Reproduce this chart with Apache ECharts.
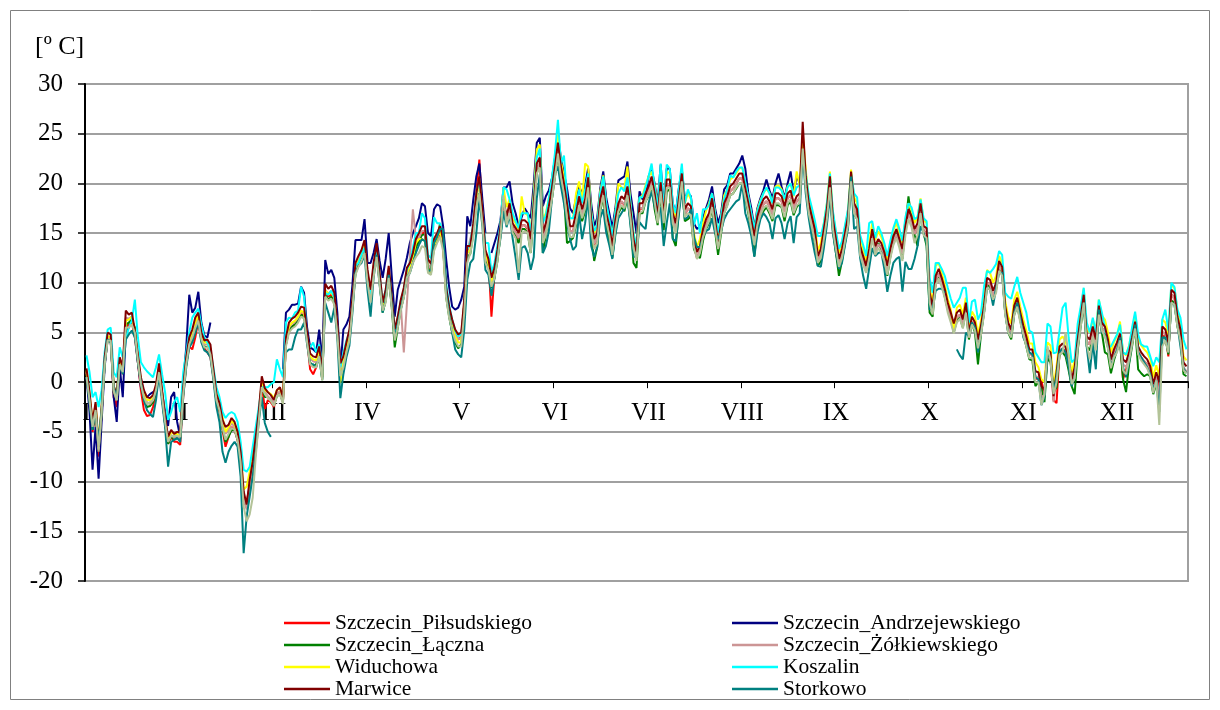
<!DOCTYPE html>
<html>
<head>
<meta charset="utf-8">
<script src="https://cdn.jsdelivr.net/npm/echarts@6/dist/echarts.min.js"></script>
<style>
  html, body { margin: 0; padding: 0; background: #fff; }
  #chart { width: 1220px; height: 710px; }
</style>
</head>
<body>
<div id="chart"></div>
<script>
// Daily mean air temperature [°C] at eight stations over one year (365 days).
const months = ['I', 'II', 'III', 'IV', 'V', 'VI', 'VII', 'VIII', 'IX', 'X', 'XI', 'XII'];
const DAYS = 365;
const days = Array.from({ length: DAYS }, (_, i) => i + 1);
const gap = n => new Array(n).fill(null); // days without a measurement

const szczecinPilsudskiego = [
  1.0, -1.8, -5.0, -3.0, -7.5, -3.2, 1.8, 4.3, 4.2, -1.5,
  -2.5, 1.8, 0.8, 5.5, 5.8, 6.0, 4.5, 2.0, -0.8, -2.8,
  -3.4, -3.3, -2.5, -1.0, 1.2, -1.5, -4.2, -6.2, -5.5, -6.0,
  -6.0, -6.3, -1.5, 1.8, 3.6, 3.3, 4.5, 6.2, 4.2, 3.4,
  3.0, 2.5, 0.5, -2.0, -3.0, -4.8, -6.5, -5.5, -4.5, -4.8,
  -5.8, -8.0, -11.5, -12.0, -10.5, -8.5, -6.0, -3.5, -0.2, -2.7,
  -1.8, -2.0, -2.5, -1.2, -1.0, -2.0, 3.8, 5.2, 5.6, 5.8,
  6.2, 6.8, 6.8, 4.2, 1.3, 0.8, 1.5, 3.0, 0.5, 9.0,
  8.6, 8.8, 8.2, 5.2, 1.0, 1.8, 3.2, 4.5, 7.8, 11.2,
  11.8, 12.4, 13.4, 10.5, 8.5, 11.0, 13.0, 10.2, 7.2, 8.5,
  10.8, 7.8, 4.5, 5.8, 7.6, 8.8, 10.8, 11.3, 12.3, 13.7,
  14.2, 15.0, 15.0, 11.8, 11.2, 13.8, 14.3, 15.0, 13.8, 9.0,
  7.0, 5.8, 4.8, 4.3, 4.6, 7.8, 13.2, 14.0, 15.6, 19.2,
  22.4, 17.0, 12.8, 12.4, 6.6, 10.8, 12.8, 15.2, 18.0, 16.2,
  17.6, 15.6, 15.0, 14.4, 15.8, 15.8, 15.4, 13.8, 17.4, 21.6,
  22.0, 14.6, 15.6, 17.2, 19.0, 21.2, 23.6, 21.2, 19.5, 17.4,
  15.2, 15.2, 16.5, 18.2, 16.8, 17.8, 20.0, 15.7, 13.8, 14.5,
  17.8, 19.2, 16.5, 15.2, 13.2, 15.8, 17.5, 18.2, 17.8, 19.2,
  16.8, 13.8, 12.6, 17.4, 17.5, 18.5, 19.2, 20.2, 18.4, 16.2,
  19.6, 16.2, 19.8, 19.8, 16.4, 15.5, 17.8, 20.5, 16.8, 17.5,
  17.2, 13.8, 12.5, 13.2, 14.8, 15.9, 16.5, 18.0, 15.8, 13.4,
  15.5, 17.5, 18.2, 19.2, 19.5, 20.0, 20.5, 20.5, 19.0, 17.5,
  15.8, 14.2, 16.2, 17.2, 17.9, 18.2, 17.7, 16.9, 18.5, 18.5,
  18.2, 17.2, 18.5, 18.8, 17.5, 18.2, 18.5, 24.0, 20.2, 17.5,
  16.2, 14.9, 12.2, 12.9, 14.9, 16.9, 20.2, 15.9, 13.9, 11.9,
  12.9, 14.5, 16.2, 20.8, 17.5, 16.9, 13.2, 12.2, 11.2, 12.9,
  14.9, 13.2, 13.9, 13.5, 12.6, 11.2, 12.9, 14.2, 14.9, 13.9,
  12.9, 15.2, 17.8, 16.2, 14.9, 15.5, 17.5, 15.2, 15.0, 8.5,
  7.1, 10.2, 10.9, 10.0, 8.9, 7.5, 6.5, 5.4, 6.5, 6.8,
  5.8, 7.5, 4.9, 6.1, 5.5, 3.8, 5.2, 7.2, 10.0, 9.8,
  8.7, 9.5, 11.7, 11.1, 7.2, 5.5, 4.8, 7.2, 8.0, 6.5,
  5.2, 4.1, 2.8, 2.8, 0.4, 0.3, 0.1, -1.3, 2.8, 2.5,
  -1.8, -2.1, 3.1, 3.4, 3.0, 1.8, -0.2, 1.0, 3.8, 6.1,
  8.3, 4.1, 3.8, 5.1, 3.8, 7.2, 5.5, 5.1, 3.8, 1.8,
  2.8, 3.5, 4.4, 0.3, 1.2, 2.5, 4.0, 5.6, 3.1, 2.5,
  2.1, 1.8, 1.1, -0.7, 0.5, -0.5, 4.5, 4.8, 2.6, 8.8,
  8.5, 6.1, 4.8, 1.1, 1.1
];

const szczecinAndrzejewskiego = [
  0.5, -3.0, -8.8, -4.5, -9.7, -4.0, 1.5, 4.5, 4.5, -1.5,
  -4.0, 1.5, -1.5, 5.0, 5.5, 6.0, 5.0, 2.0, -0.5, -1.2,
  -1.5, -1.2, -1.0, -0.8, 1.0, -1.0, -3.0, -4.4, -1.5, -1.0,
  -4.0, -5.5, 0.0, 3.5, 8.8, 7.0, 7.5, 9.1, 6.0, 4.7,
  4.5, 6.0,
  ...gap(23),
  1.3, 7.0, 7.3, 7.8, 7.8,
  7.9, 9.6, 9.0, 5.5, 3.5, 3.3, 3.0, 5.3, 2.0, 12.3,
  10.9, 11.3, 10.5, 7.0, 1.3, 5.3, 5.8, 6.6, 9.8, 14.3,
  14.3, 14.3, 16.4, 12.0, 12.0, 13.0, 14.4, 12.2, 10.5, 12.4,
  15.0, 10.7, 6.6, 9.3, 10.3, 11.3, 12.5, 14.0, 15.0, 15.7,
  16.5, 18.0, 17.7, 15.0, 14.7, 17.4, 17.9, 17.7, 15.7, 12.4,
  9.6, 7.6, 7.3, 7.5, 8.3, 9.6, 16.7, 15.7, 18.4, 20.7,
  22.0, 18.4, 15.0,
  ...gap(1),
  13.0, 14.0, 15.0, 16.3, 19.6, 19.6,
  20.2, 18.0, 17.0, 15.7, 16.6, 17.5, 17.0, 16.5, 20.0, 24.1,
  24.6, 17.7, 18.7, 19.3, 20.5, 22.5, 25.0, 22.5, 21.0, 19.5,
  17.5, 17.0, 18.5, 19.7, 19.0, 19.8, 21.5, 18.0, 15.7, 16.5,
  19.5, 21.2, 18.5, 17.0, 15.5, 17.5, 20.3, 20.5, 20.7, 22.2,
  19.0, 17.0, 15.0, 19.2, 18.4, 18.7, 20.7, 21.4, 20.0, 18.0,
  21.9, 17.7, 21.5, 21.5, 18.0, 17.0, 19.5, 21.4, 18.5, 19.0,
  18.7, 16.0, 15.4, 15.7, 16.5, 17.5, 18.4, 19.7, 17.5, 16.0,
  17.0, 19.4, 19.8, 21.0, 21.0, 21.5, 22.0, 22.8, 21.5, 19.0,
  17.5, 15.5, 17.5, 18.5, 19.3, 20.4, 19.3, 18.5, 20.0, 21.0,
  19.7, 18.5, 20.0, 21.2, 19.0, 20.7, 20.0,
  ...gap(128)
];

const szczecinLaczna = [
  0.8, -1.8, -4.8, -2.8, -7.0, -3.2, 1.8, 4.5, 4.2, -1.0,
  -1.8, 1.8, 1.0, 5.8, 6.0, 6.3, 5.5, 2.2, -0.2, -1.8,
  -2.5, -2.4, -2.0, -1.0, 1.2, -1.5, -4.2, -6.2, -5.4, -5.8,
  -5.6, -5.7, -1.0, 1.8, 3.8, 4.2, 5.0, 6.5, 4.4, 3.6,
  3.5, 2.9, 0.6, -1.8, -2.8, -4.6, -6.0, -5.5, -4.8, -4.8,
  -5.8, -7.8, -12.0, -12.5, -10.5, -8.6, -6.2, -3.8, -0.3, -1.5,
  -1.5, -1.8, -2.3, -1.4, -1.2, -2.0, 3.8, 5.2, 5.6, 5.8,
  6.2, 6.8, 6.6, 4.3, 2.0, 1.6, 1.8, 2.8, 0.2, 8.8,
  8.3, 8.6, 8.0, 5.0, 0.6, 1.7, 3.0, 4.3, 7.5, 11.0,
  11.7, 12.3, 13.3, 10.2, 8.2, 10.8, 13.0, 10.0, 7.0, 8.2,
  10.6, 7.6, 3.5, 5.5, 7.3, 8.6, 10.6, 11.1, 12.2, 13.5,
  14.2, 14.8, 14.9, 11.5, 11.0, 13.6, 14.4, 16.0, 13.6, 8.6,
  6.6, 5.0, 4.0, 3.4, 3.8, 7.2, 12.6, 12.9, 15.0, 18.0,
  19.0, 16.4, 12.2, 11.6, 9.5, 10.5, 12.2, 14.8, 17.5, 16.0,
  17.2, 15.4, 14.6, 14.0, 15.4, 15.4, 15.0, 13.0, 17.0, 21.2,
  21.6, 13.0, 14.8, 16.6, 18.4, 20.6, 23.0, 20.6, 18.8, 14.0,
  14.2, 14.5, 15.8, 17.6, 16.2, 17.2, 19.4, 14.8, 12.2, 13.6,
  17.2, 18.6, 15.8, 14.2, 12.5, 15.0, 17.0, 17.6, 17.2, 18.6,
  16.2, 12.0, 11.5, 17.0, 17.0, 18.2, 18.7, 19.7, 17.4, 15.8,
  19.0, 15.3, 19.2, 19.4, 14.5, 13.7, 17.2, 20.0, 16.2, 16.4,
  16.7, 13.4, 12.7, 12.5, 14.2, 15.4, 16.0, 17.5, 15.2, 12.8,
  15.0, 17.0, 17.8, 18.8, 19.0, 19.5, 20.0, 20.0, 18.5, 17.0,
  15.2, 12.7, 15.6, 16.6, 17.2, 17.6, 17.0, 16.2, 17.8, 17.8,
  17.6, 16.2, 17.8, 18.2, 16.8, 17.6, 18.0, 24.5, 19.6, 17.0,
  15.5, 14.0, 11.7, 12.2, 14.3, 16.4, 19.8, 15.2, 13.0, 10.7,
  12.2, 14.0, 15.7, 20.2, 17.0, 16.4, 13.7, 12.2, 11.7, 13.0,
  15.0, 13.2, 14.0, 13.4, 12.5, 10.7, 12.6, 14.2, 15.0, 14.0,
  12.4, 15.7, 18.7, 16.4, 14.8, 13.7, 17.5, 15.0, 13.7, 7.0,
  6.6, 10.0, 10.8, 10.0, 8.6, 7.3, 6.4, 5.0, 6.2, 6.5,
  5.5, 7.3, 4.3, 5.9, 5.0, 1.8, 4.8, 7.0, 9.8, 9.6,
  8.4, 9.3, 11.6, 11.0, 7.0, 5.0, 4.3, 6.8, 7.6, 6.2,
  4.8, 3.6, 2.3, 2.2, -0.4, 0.0, -0.6, -2.0, 2.4, 2.0,
  -1.0, -0.5, 2.8, 3.0, 2.6, 1.2, -0.4, -1.2, 3.2, 5.6,
  7.8, 3.6, 3.2, 4.6, 3.4, 6.8, 5.0, 3.0, 2.8, 0.9,
  2.2, 3.2, 4.0, 0.3, -1.0, 1.8, 3.6, 5.6, 1.3, 0.9,
  0.6, 0.8, 0.6, -1.2, -0.2, -1.5, 4.5, 4.5, 2.8, 8.2,
  8.0, 5.6, 4.3, 0.8, 0.6
];

const szczecinZolkiewskiego = [
  1.0, -1.5, -4.5, -2.5, -7.0, -3.0, 2.0, 4.5, 4.4, -0.9,
  -1.8, 2.0, 1.0, 6.5, 6.4, 6.6, 4.8, 2.3, 0.0, -1.3,
  -2.0, -2.2, -1.8, -0.7, 1.4, -1.2, -4.0, -6.0, -5.3, -5.6,
  -5.5, -5.8, -1.0, 2.0, 4.0, 4.8, 5.8, 6.6, 4.5, 3.8,
  3.8, 3.3, 0.8, -1.6, -2.6, -4.3, -5.2, -4.8, -4.1, -4.5,
  -5.5, -7.5, -11.8, -12.8, -10.5, -8.5, -6.0, -3.5, 0.1, -1.0,
  -1.4, -1.7, -2.2, -1.2, -0.9, -1.9, 4.0, 5.5, 5.9, 6.1,
  6.5, 7.1, 7.0, 4.6, 2.4, 2.1, 2.0, 3.1, 0.6, 9.3,
  8.9, 9.2, 8.5, 5.5, 1.3, 2.1, 3.5, 4.8, 8.0, 11.4,
  12.2, 12.8, 13.8, 10.8, 8.8, 11.5, 13.5, 10.5, 7.5, 8.8,
  11.2, 8.2, 4.8, 6.1, 7.8, 3.0, 7.8, 12.6, 17.4, 14.4,
  14.5, 15.2, 15.2, 11.9, 11.4, 13.9, 14.5, 15.2, 13.9, 9.1,
  7.1, 5.8, 4.8, 4.3, 4.5, 7.8, 13.2, 14.4, 15.5, 18.5,
  20.2, 16.9, 12.8, 11.9, 10.0, 11.0, 12.8, 15.2, 17.9, 16.2,
  17.5, 15.5, 15.0, 14.5, 15.8, 15.8, 15.5, 13.9, 17.5, 21.5,
  22.1, 14.5, 15.5, 17.2, 19.0, 21.2, 23.6, 21.2, 19.5, 17.5,
  15.2, 15.2, 16.5, 18.2, 16.9, 17.9, 20.1, 15.8, 13.9, 14.5,
  17.9, 19.2, 16.5, 15.2, 13.2, 15.8, 17.5, 18.2, 17.9, 19.2,
  16.9, 13.9, 12.6, 17.5, 17.5, 18.5, 19.2, 20.2, 18.5, 16.2,
  19.6, 16.2, 19.9, 19.9, 16.5, 15.5, 17.9, 20.5, 16.9, 17.5,
  17.2, 13.9, 12.6, 13.2, 14.9, 15.9, 16.5, 18.0, 15.9, 13.5,
  15.5, 17.5, 18.2, 19.2, 19.5, 20.0, 20.5, 20.5, 19.0, 17.5,
  15.8, 14.2, 16.2, 17.2, 17.9, 18.2, 17.7, 16.9, 18.5, 18.5,
  18.2, 17.2, 18.5, 18.8, 17.5, 18.2, 18.5, 24.5, 20.2, 17.5,
  16.2, 14.9, 12.2, 12.9, 14.9, 16.9, 20.2, 15.9, 13.9, 11.9,
  12.9, 14.5, 16.2, 20.7, 17.5, 16.9, 13.2, 12.2, 11.2, 12.9,
  14.9, 13.2, 13.9, 13.5, 12.6, 11.2, 12.9, 14.2, 14.9, 13.9,
  12.9, 15.2, 16.9, 16.2, 14.9, 15.5, 17.5, 15.2, 15.0, 8.5,
  7.1, 10.2, 10.9, 10.0, 8.9, 7.5, 6.5, 5.4, 6.5, 6.8,
  5.8, 7.5, 4.5, 6.1, 5.5, 3.8, 5.2, 7.2, 10.0, 9.8,
  8.7, 9.5, 11.7, 11.1, 7.2, 5.5, 4.8, 7.2, 8.0, 6.5,
  5.2, 4.1, 2.8, 2.8, 0.6, 0.5, -1.5, -1.3, 2.8, 2.5,
  -2.0, 0.5, 3.1, 3.4, 3.0, 1.8, -0.2, 1.0, 3.8, 6.1,
  8.3, 4.1, 3.8, 5.1, 3.8, 7.2, 5.5, 5.1, 3.8, 1.8,
  2.8, 3.5, 4.4, 1.8, 1.5, 2.5, 4.0, 5.6, 3.1, 2.5,
  2.1, 1.8, 1.1, -0.7, 0.5, -1.5, 5.1, 4.8, 3.5, 8.8,
  8.5, 6.1, 4.8, 1.5, 1.1
];

const widuchowa = [
  1.2, -1.2, -4.0, -2.2, -6.0, -2.5, 2.2, 4.6, 4.6, -0.4,
  -1.3, 2.2, 1.4, 6.2, 6.3, 6.6, 5.0, 2.5, 0.2, -1.0,
  -1.8, -1.8, -1.5, -0.5, 1.6, -1.0, -3.7, -5.8, -5.0, -5.2,
  -5.2, -5.5, -0.8, 2.2, 4.2, 5.0, 6.0, 6.8, 4.8, 4.0,
  4.0, 3.4, 1.0, -1.0, -2.0, -3.5, -5.0, -4.5, -3.9, -4.2,
  -5.2, -7.2, -10.8, -10.5, -9.0, -7.1, -5.0, -3.0, 0.0, -0.8,
  -1.0, -1.2, -1.6, -0.8, -0.6, -1.5, 4.2, 5.6, 6.0, 6.2,
  6.6, 7.2, 7.0, 4.6, 2.6, 2.3, 2.2, 3.3, 0.6, 9.2,
  8.9, 9.0, 8.5, 5.2, -0.1, 2.0, 3.6, 4.8, 8.0, 11.6,
  12.2, 12.8, 13.8, 10.8, 8.8, 11.5, 13.6, 10.6, 7.6, 8.8,
  11.2, 8.4, 4.7, 6.2, 7.8, 9.0, 11.0, 11.6, 12.6, 14.0,
  14.4, 14.4, 14.2, 11.3, 11.1, 13.8, 14.5, 15.2, 13.8, 9.0,
  7.0, 5.6, 4.6, 4.0, 4.0, 8.0, 13.0, 13.3, 15.7, 18.6,
  20.2, 16.8, 13.0, 12.0, 10.0, 11.4, 13.2, 15.8, 19.6, 17.6,
  18.4, 16.5, 16.0, 15.0, 18.7, 17.0, 16.8, 15.0, 19.0, 23.4,
  23.9, 16.3, 17.0, 18.5, 20.3, 22.5, 25.0, 22.2, 20.6, 17.0,
  16.5, 16.5, 19.0, 20.2, 18.2, 22.0, 21.7, 17.2, 15.0, 15.8,
  19.2, 20.8, 17.8, 16.2, 14.7, 17.0, 20.0, 19.6, 19.5, 21.7,
  18.0, 15.0, 13.5, 18.5, 18.8, 19.8, 20.7, 21.2, 19.8, 17.4,
  21.0, 17.4, 21.2, 21.0, 17.6, 16.6, 19.0, 21.6, 18.0, 19.0,
  18.4, 15.0, 13.6, 14.4, 16.0, 17.2, 18.0, 19.0, 17.0, 14.8,
  16.6, 18.8, 19.4, 20.4, 20.6, 21.0, 21.5, 21.6, 20.0, 18.6,
  16.9, 15.3, 17.3, 18.3, 19.0, 19.5, 19.0, 18.0, 19.7, 19.8,
  19.4, 18.3, 19.7, 20.0, 18.7, 21.2, 19.8, 25.0, 21.4, 18.6,
  17.3, 16.0, 13.2, 14.0, 16.0, 18.0, 21.2, 17.0, 15.0, 13.0,
  14.0, 15.6, 17.3, 21.4, 18.6, 18.0, 14.3, 13.3, 12.2, 14.0,
  16.0, 14.3, 15.2, 14.6, 13.7, 12.2, 14.0, 15.3, 16.0, 15.0,
  14.0, 16.3, 18.0, 17.3, 16.0, 16.6, 18.5, 16.3, 16.0, 9.5,
  8.0, 11.7, 12.0, 11.0, 9.8, 8.4, 7.3, 5.1, 7.5, 7.8,
  6.8, 8.5, 5.5, 7.1, 6.6, 4.8, 6.2, 8.4, 11.3, 11.0,
  10.0, 10.7, 12.7, 12.0, 8.2, 6.6, 5.9, 8.3, 9.1, 7.6,
  6.3, 5.2, 3.9, 3.9, 2.0, 1.5, 0.3, 0.0, 4.0, 3.7,
  -0.6, 1.6, 4.3, 4.6, 4.1, 2.9, 1.0, 2.2, 5.0, 7.3,
  9.4, 5.2, 5.0, 6.3, 5.0, 8.3, 6.7, 6.3, 5.0, 3.0,
  4.0, 4.7, 6.1, 3.0, 2.7, 3.7, 5.2, 6.8, 4.3, 3.7,
  3.3, 3.0, 2.3, 0.5, 1.7, 0.6, 6.3, 6.0, 4.7, 9.8,
  9.5, 7.2, 6.0, 2.6, 2.2
];

const koszalin = [
  2.7, 1.0, -1.5, -1.0, -2.5, -0.8, 3.0, 5.3, 5.5, 1.0,
  0.5, 3.5, 2.5, 4.3, 5.5, 6.2, 8.3, 4.5, 2.0, 1.5,
  1.1, 0.8, 0.5, 1.5, 2.8, 0.8, -1.0, -3.8, -3.0, -2.0,
  -1.5, -3.0, 1.0, 3.0, 5.0, 6.5, 7.0, 7.4, 5.8, 4.5,
  4.0, 3.2, 1.5, -0.5, -1.5, -3.0, -3.6, -3.2, -3.0, -3.2,
  -4.0, -6.0, -8.8, -9.0, -8.5, -6.5, -4.5, -2.5, -0.5, -0.5,
  -0.5, -0.2, 0.0, 2.3, 1.3, 0.5, 6.0, 6.5, 6.4, 7.0,
  7.2, 9.6, 8.6, 4.3, 3.5, 4.0, 3.0, 3.8, 1.5, 9.0,
  8.8, 9.2, 8.5, 5.5, 1.5, 3.0, 4.2, 5.0, 8.0, 11.7,
  12.0, 12.8, 13.5, 11.0, 8.8, 11.6, 13.6, 10.8, 8.0, 9.3,
  11.3, 8.5, 5.0, 6.5, 8.2, 9.3, 11.3, 12.0, 13.5, 15.0,
  15.0, 17.0, 16.5, 12.8, 12.5, 16.6, 16.0, 16.0, 14.5, 10.0,
  7.8, 6.3, 5.2, 4.6, 4.8, 7.8, 13.4, 14.0, 16.0, 19.0,
  20.5, 17.0, 14.0, 14.0, 11.0, 12.0, 13.8, 16.0, 19.6, 19.4,
  18.4, 17.0, 16.2, 15.5, 17.0, 17.0, 17.0, 15.0, 18.5, 22.6,
  23.5, 16.0, 16.8, 18.5, 20.5, 23.0, 26.4, 22.0, 22.8, 18.5,
  16.5, 16.5, 17.8, 19.4, 18.0, 19.4, 21.0, 17.0, 15.2, 15.8,
  19.0, 20.7, 18.0, 16.4, 14.7, 17.0, 19.0, 19.6, 19.2, 20.6,
  18.0, 15.0, 13.6, 18.6, 18.6, 19.6, 20.7, 22.0, 19.6, 17.4,
  22.0, 17.2, 21.9, 21.5, 18.0, 17.0, 19.4, 22.0, 18.0, 19.4,
  18.6, 15.8, 17.0, 15.0, 17.4, 17.4, 17.8, 19.0, 17.0, 15.0,
  16.7, 18.4, 19.4, 20.8, 20.6, 21.2, 21.6, 21.6, 20.2, 18.6,
  17.0, 15.4, 17.2, 18.2, 19.0, 19.6, 19.0, 18.0, 19.6, 19.6,
  19.3, 18.4, 19.6, 20.0, 18.8, 19.6, 19.8, 23.1, 21.0, 18.8,
  17.6, 16.3, 14.7, 14.7, 16.0, 18.0, 21.0, 17.2, 15.2, 13.4,
  14.2, 15.8, 17.4, 21.0, 19.0, 18.6, 14.8, 13.8, 12.7, 16.0,
  16.2, 14.5, 15.7, 15.0, 14.0, 12.7, 14.2, 15.5, 16.4, 15.4,
  14.2, 16.6, 18.0, 17.6, 16.4, 16.6, 18.4, 16.5, 16.2, 10.5,
  9.0, 12.0, 12.0, 11.4, 10.7, 9.5, 8.4, 7.5, 8.0, 8.5,
  9.5, 9.5, 6.0, 8.1, 8.3, 6.3, 7.0, 9.6, 11.2, 11.0,
  11.4, 11.9, 13.2, 12.8, 9.0, 8.6, 8.4, 9.6, 10.6, 9.0,
  8.0, 7.0, 5.2, 5.0, 3.0, 2.5, 2.0, 2.0, 5.9, 5.6,
  2.9, 3.0, 5.2, 7.5, 8.0, 4.5, 2.0, 2.3, 5.9, 7.6,
  9.5, 6.0, 5.0, 6.5, 5.0, 8.3, 7.0, 5.5, 3.6, 3.6,
  4.2, 4.8, 5.8, 3.0, 2.8, 3.6, 5.5, 7.1, 4.8, 3.8,
  3.6, 3.6, 2.6, 1.6, 2.5, 2.0, 6.3, 7.3, 5.2, 10.0,
  9.6, 7.3, 6.5, 4.3, 3.3
];

const marwice = [
  1.4, -1.0, -4.0, -2.0, -6.5, -2.5, 2.5, 5.0, 4.8, -0.4,
  -1.2, 2.5, 1.6, 7.2, 6.8, 7.0, 5.2, 2.8, 0.5, -0.8,
  -1.5, -1.6, -1.3, -0.2, 1.9, -0.8, -3.5, -5.5, -4.8, -5.2,
  -5.0, -5.0, -0.5, 2.5, 4.5, 5.3, 6.5, 7.0, 5.0, 4.2,
  4.3, 3.8, 1.3, -1.2, -2.1, -3.8, -4.5, -4.3, -3.6, -4.0,
  -5.0, -7.0, -11.0, -12.3, -9.8, -8.0, -5.5, -3.0, 0.6, -0.6,
  -1.0, -1.3, -1.8, -0.8, -0.5, -1.5, 4.5, 6.0, 6.4, 6.6,
  7.0, 7.6, 7.5, 5.0, 2.9, 2.6, 2.5, 3.6, 1.1, 9.9,
  9.4, 9.7, 9.0, 6.0, 1.9, 2.6, 4.0, 5.3, 8.5, 12.0,
  12.7, 13.3, 14.3, 11.3, 9.3, 12.0, 14.0, 11.0, 8.0, 9.3,
  11.7, 8.7, 5.3, 6.6, 8.3, 9.5, 11.5, 12.0, 13.0, 14.4,
  15.0, 15.7, 15.7, 12.4, 11.9, 14.4, 15.0, 15.7, 14.4, 9.6,
  7.6, 6.3, 5.3, 4.8, 5.0, 8.3, 13.7, 13.7, 16.0, 19.0,
  20.7, 17.4, 13.3, 12.4, 10.5, 11.5, 13.3, 15.7, 18.4, 16.7,
  18.0, 16.0, 15.5, 15.0, 16.3, 16.3, 16.0, 14.4, 18.0, 22.0,
  22.6, 15.0, 16.0, 17.7, 19.5, 21.7, 24.1, 21.7, 20.0, 18.0,
  15.7, 15.7, 17.0, 18.7, 17.4, 18.4, 20.6, 16.3, 14.4, 15.0,
  18.4, 19.7, 17.0, 15.7, 13.7, 16.3, 18.0, 18.7, 18.4, 19.7,
  17.4, 14.4, 13.1, 18.0, 18.0, 19.0, 19.7, 20.7, 19.0, 16.7,
  20.1, 16.7, 20.4, 20.4, 17.0, 16.0, 18.4, 21.0, 17.4, 18.0,
  17.7, 14.4, 13.1, 13.7, 15.4, 16.4, 17.0, 18.5, 16.4, 14.0,
  16.0, 18.0, 18.7, 19.7, 20.0, 20.5, 21.0, 21.0, 19.5, 18.0,
  16.3, 14.7, 16.7, 17.7, 18.4, 18.7, 18.2, 17.4, 19.0, 19.0,
  18.7, 17.7, 19.0, 19.3, 18.0, 18.7, 19.0, 26.2, 20.7, 18.0,
  16.7, 15.4, 12.7, 13.4, 15.4, 17.4, 20.7, 16.4, 14.4, 12.4,
  13.4, 15.0, 16.7, 21.2, 18.0, 17.4, 13.7, 12.7, 11.7, 13.4,
  15.4, 13.7, 14.4, 14.0, 13.1, 11.7, 13.4, 14.7, 15.4, 14.4,
  13.4, 15.7, 17.4, 16.7, 15.4, 16.0, 18.0, 15.7, 15.5, 9.0,
  7.6, 10.7, 11.4, 10.5, 9.4, 8.0, 7.0, 5.9, 7.0, 7.3,
  6.3, 8.0, 5.0, 6.6, 6.0, 4.3, 5.7, 7.7, 10.5, 10.3,
  9.2, 10.0, 12.2, 11.6, 7.7, 6.0, 5.3, 7.7, 8.5, 7.0,
  5.7, 4.6, 3.3, 3.3, 1.1, 1.0, -0.4, -0.8, 3.3, 3.0,
  -1.4, 1.0, 3.6, 3.9, 3.5, 2.3, 0.3, 1.5, 4.3, 6.6,
  8.8, 4.6, 4.3, 5.6, 4.3, 7.7, 6.0, 5.6, 4.3, 2.3,
  3.3, 4.0, 4.9, 2.3, 2.0, 3.0, 4.5, 6.1, 3.6, 3.0,
  2.6, 2.3, 1.6, -0.2, 1.0, 0.0, 5.6, 5.3, 4.0, 9.3,
  9.0, 6.6, 5.3, 2.0, 1.6
];

const storkowo = [
  0.5, -2.0, -4.8, -3.0, -6.0, -2.8, 1.8, 4.3, 4.0, -0.5,
  -1.5, 1.8, 0.8, 4.3, 4.8, 5.2, 4.5, 2.0, 0.0, -1.8,
  -2.8, -3.2, -3.5, -1.8, 0.8, -2.0, -4.5, -8.5, -6.0, -5.8,
  -5.6, -6.0, -1.5, 1.5, 3.5, 4.0, 5.0, 6.0, 4.0, 3.2,
  3.0, 2.5, 0.2, -2.5, -4.0, -7.0, -8.1, -7.0, -6.4, -6.0,
  -6.5, -9.5, -17.2, -13.5, -11.5, -9.5, -7.0, -4.0, -1.5, -4.1,
  -5.0, -5.5,
  ...gap(4),
  3.0, 3.3, 3.3, 4.5,
  5.3, 5.3, 6.0, 3.8, 1.8, 1.8, 1.5, 2.5, 0.3, 8.0,
  7.0, 6.0, 7.5, 4.5, -1.6, 0.8, 2.5, 3.7, 7.0, 11.0,
  11.7, 12.0, 12.8, 9.2, 6.6, 10.5, 12.8, 9.8, 7.0, 8.3,
  10.8, 7.8, 4.5, 5.8, 7.4, 8.6, 10.5, 11.0, 12.0, 13.0,
  13.8, 14.4, 14.2, 11.2, 11.2, 14.0, 14.6, 15.4, 15.4, 9.0,
  6.8, 5.0, 3.3, 2.8, 2.5, 5.3, 10.3, 12.0, 12.4, 15.0,
  18.4, 15.7, 11.3, 10.8, 8.7, 10.5, 12.6, 14.5, 17.2, 15.6,
  16.8, 14.5, 12.5, 10.3, 13.5, 13.7, 13.0, 11.3, 12.6, 18.5,
  20.9, 13.0, 13.7, 15.2, 18.4, 21.0, 21.7, 19.7, 18.0, 16.0,
  14.4, 13.3, 13.7, 17.0, 14.4, 16.0, 18.5, 13.7, 12.6, 13.6,
  16.5, 17.4, 15.0, 13.8, 12.4, 14.8, 16.5, 17.0, 17.5, 18.7,
  15.8, 12.6, 12.7, 16.1, 15.7, 15.4, 18.0, 19.2, 17.7, 16.7,
  17.6, 13.7, 16.0, 18.0, 14.4, 14.2, 16.8, 19.4, 16.4, 16.6,
  17.4, 14.6, 13.6, 13.6, 14.6, 15.2, 15.4, 16.5, 15.0, 14.4,
  15.2, 16.4, 17.0, 17.4, 17.8, 18.2, 18.4, 20.0, 17.0, 16.0,
  14.7, 12.6, 15.0, 16.4, 17.0, 16.6, 16.0, 14.4, 16.5, 16.8,
  16.0, 14.4, 16.0, 16.7, 14.0, 16.6, 17.0, 23.1, 19.0, 16.5,
  14.6, 13.0, 11.7, 11.6, 13.5, 15.8, 18.7, 15.0, 13.0, 11.4,
  12.0, 13.8, 15.5, 20.7, 15.4, 15.7, 12.5, 10.7, 9.4, 11.5,
  13.5, 12.7, 13.0, 13.1, 11.4, 9.1, 10.7, 12.0, 12.4, 12.6,
  9.1, 12.1, 11.4, 11.4, 12.4, 13.7, 15.7, 15.0, 14.0, 7.3,
  7.5, 9.2, 9.4, 9.4, 9.0,
  ...gap(3),
  3.3, 2.7,
  2.3, 5.0, 4.6, 6.0, 5.5, 3.0, 5.0, 7.0, 9.5, 9.3,
  7.7, 9.5, 11.0, 11.0, 7.0, 5.0, 4.6, 7.0, 8.0, 6.5,
  4.5, 3.8, 3.0, 2.8, 0.5, 0.3, -2.3, -1.5, 2.8, 2.4,
  -1.0, 0.6, 3.0, 3.4, 3.0, 1.6, -0.4, 0.5, 3.5, 6.0,
  8.0, 3.5, 0.9, 4.0, 1.3, 7.3, 5.0, 4.8, 3.5, 1.6,
  2.5, 3.2, 4.5, 1.5, 0.5, 2.0, 4.0, 5.8, 3.0, 2.5,
  2.0, 1.5, 0.8, -0.8, 0.2, -3.0, 4.5, 4.5, 3.0, 8.0,
  7.8, 5.8, 3.6, 1.4, 0.9
];

// Ninth curve, drawn last and not listed in the legend.
const srednia = [
  0.5, -1.8, -4.5, -2.8, -6.8, -3.0, 1.8, 4.2, 4.2, -0.8,
  -1.8, 1.8, 1.0, 5.5, 5.5, 5.8, 5.0, 2.2, -0.2, -1.5,
  -2.2, -2.0, -1.8, -0.8, 1.0, -1.5, -4.0, -6.0, -5.4, -5.4,
  -5.4, -5.5, -1.2, 1.8, 3.8, 4.5, 5.5, 6.2, 4.3, 3.5,
  3.5, 2.8, 0.5, -1.8, -2.8, -4.6, -5.8, -5.2, -4.6, -4.8,
  -5.8, -8.0, -12.5, -14.0, -13.3, -11.6, -7.5, -4.0, -0.5, -1.2,
  -1.6, -1.9, -2.4, -1.4, -1.2, -2.2, 3.6, 5.0, 5.4, 5.6,
  6.0, 6.6, 6.4, 4.0, 1.8, 1.5, 1.5, 2.6, 0.2, 8.6,
  8.2, 8.4, 7.8, 4.8, 0.6, 1.5, 3.0, 4.2, 7.4, 10.8,
  11.6, 12.2, 13.0, 10.0, 8.0, 10.6, 12.6, 9.8, 7.2, 8.0,
  10.5, 7.5, 4.2, 5.5, 7.2, 8.5, 10.5, 11.0, 12.0, 12.6,
  13.0, 13.7, 13.5, 11.0, 10.8, 13.2, 14.0, 14.6, 13.2, 8.5,
  6.5, 5.2, 4.2, 3.6, 3.6, 7.0, 12.0, 13.0, 14.6, 17.6,
  19.0, 16.0, 12.0, 11.3, 9.6, 10.5, 12.2, 14.8, 18.8, 15.8,
  17.0, 15.0, 14.5, 11.0, 15.0, 15.2, 15.0, 13.0, 17.0, 21.0,
  21.6, 14.0, 14.8, 16.5, 18.4, 20.6, 23.0, 20.6, 19.0, 16.5,
  14.6, 14.6, 16.0, 17.8, 16.5, 17.5, 19.6, 15.2, 13.4, 14.0,
  17.4, 18.8, 16.2, 14.8, 12.8, 15.4, 17.2, 17.8, 17.5, 18.8,
  16.5, 13.5, 12.2, 17.0, 17.2, 18.2, 18.8, 19.8, 18.2, 16.0,
  19.2, 16.0, 19.6, 19.6, 16.0, 15.0, 17.6, 20.2, 16.6, 17.0,
  16.8, 13.6, 12.4, 13.0, 14.6, 15.5, 16.2, 17.6, 15.6, 13.4,
  15.2, 17.0, 17.7, 18.8, 19.0, 19.6, 20.0, 20.0, 18.6, 17.2,
  15.4, 13.8, 15.8, 16.8, 17.5, 17.8, 17.2, 16.4, 18.0, 18.0,
  17.7, 16.6, 18.0, 18.4, 17.0, 17.8, 18.0, 23.5, 19.6, 17.0,
  15.6, 14.2, 12.0, 12.5, 14.4, 16.4, 19.6, 15.4, 13.4, 11.6,
  12.5, 14.2, 15.8, 20.2, 17.0, 16.4, 12.8, 11.8, 11.0, 12.5,
  14.5, 12.8, 13.5, 13.0, 12.2, 10.8, 12.5, 13.8, 14.5, 13.5,
  12.2, 14.8, 16.4, 15.6, 14.0, 14.8, 17.0, 14.8, 14.5, 8.0,
  6.8, 9.8, 10.4, 9.6, 8.5, 7.0, 6.0, 4.9, 6.0, 6.4,
  5.4, 7.0, 4.5, 5.8, 5.2, 3.4, 4.8, 6.8, 9.5, 9.3,
  8.3, 9.0, 11.2, 10.7, 6.8, 5.0, 4.5, 6.8, 7.6, 6.0,
  4.8, 3.6, 2.4, 2.5, 0.0, 0.0, -2.3, -1.2, 3.6, 2.2,
  -1.2, 0.0, 2.8, 3.0, 5.0, 2.6, -0.2, 0.4, 3.4, 5.6,
  8.0, 3.8, 2.3, 4.6, 3.2, 6.8, 5.2, 4.6, 3.4, 1.4,
  2.5, 3.0, 4.2, 1.2, 0.8, 2.2, 3.8, 5.4, 2.8, 2.2,
  1.8, 1.4, 0.6, -1.1, 0.2, -4.3, 3.6, 4.2, 3.0, 8.0,
  7.8, 5.6, 4.2, 1.2, 0.9
];

const allSeries = { szczecinPilsudskiego, szczecinAndrzejewskiego, szczecinLaczna, szczecinZolkiewskiego,
  widuchowa, koszalin, marwice, storkowo, srednia };
for (const [key, arr] of Object.entries(allSeries)) {
  if (arr.length !== DAYS) throw new Error(key + ' has ' + arr.length + ' values');
}

const FONT = '"Liberation Serif", "Times New Roman", serif';

// Plot box geometry: the month axis is drawn on the 0 °C line.
const GRID = { left: 85, right: 32, top: 84, bottom: 129 };
const Y_MIN = -20, Y_MAX = 30;
const plotHeight = 710 - GRID.top - GRID.bottom;
const zeroShift = plotHeight * (0 - Y_MIN) / (Y_MAX - Y_MIN);

const line = (name, data, color) => ({
  name, type: 'line', data,
  symbol: 'none', showSymbol: false,
  lineStyle: { color, width: 2 },
  itemStyle: { color },
  emphasis: { disabled: true },
  animation: false
});

const legendBase = {
  top: 607, orient: 'vertical', icon: 'rect', itemWidth: 46, itemHeight: 2.5, itemGap: 0,
  selectedMode: false,
  textStyle: { fontFamily: FONT, fontSize: 21.5, color: '#000', lineHeight: 21 }
};

const chart = echarts.init(document.getElementById('chart'), null, { renderer: 'canvas' });
chart.setOption({
  animation: false,
  backgroundColor: '#ffffff',
  graphic: [
    { type: 'rect', silent: true, z: -10,
      shape: { x: 10.5, y: 10.5, width: 1199, height: 689 },
      style: { fill: 'none', stroke: '#808080', lineWidth: 1 } },
    { type: 'text', left: 35, top: 34,
      style: { text: '[º C]', font: '26px "Liberation Serif", serif', fill: '#000' } }
  ],
  grid: Object.assign({ show: true, borderColor: '#a0a0a0', borderWidth: 2 }, GRID),
  legend: [
    Object.assign({ left: 279, data: ['Szczecin_Piłsudskiego', 'Szczecin_Łączna', 'Widuchowa', 'Marwice'] }, legendBase),
    Object.assign({ left: 727, data: ['Szczecin_Andrzejewskiego', 'Szczecin_Żółkiewskiego', 'Koszalin', 'Storkowo'] }, legendBase)
  ],
  xAxis: {
    type: 'category', data: days, boundaryGap: true,
    offset: -zeroShift,
    axisLine: { onZero: false, lineStyle: { color: '#000', width: 2 } },
    axisTick: { show: true, interval: 30, length: 6, lineStyle: { color: '#000', width: 1 } },
    axisLabel: {
      interval: 30, margin: 19, fontFamily: FONT, fontSize: 25, color: '#000',
      formatter: (value) => months[Math.floor((Number(value) - 1) / 31)] || ''
    },
    splitLine: { show: false }
  },
  yAxis: {
    type: 'value', min: Y_MIN, max: Y_MAX, interval: 5,
    axisLine: { show: true, lineStyle: { color: '#000', width: 2 } },
    axisTick: { show: true, length: 7, lineStyle: { color: '#000', width: 1.5 } },
    axisLabel: { margin: 22, fontFamily: FONT, fontSize: 25, color: '#000' },
    splitLine: { show: true, lineStyle: { color: '#a0a0a0', width: 2 } }
  },
  series: [
    line('Szczecin_Piłsudskiego', szczecinPilsudskiego, '#ff0000'),
    line('Szczecin_Andrzejewskiego', szczecinAndrzejewskiego, '#000080'),
    line('Szczecin_Łączna', szczecinLaczna, '#008000'),
    line('Szczecin_Żółkiewskiego', szczecinZolkiewskiego, '#cc9595'),
    line('Widuchowa', widuchowa, '#ffff00'),
    line('Koszalin', koszalin, '#00ffff'),
    line('Marwice', marwice, '#800000'),
    line('Storkowo', storkowo, '#008080'),
    line('Średnia', srednia, '#b3c398')
  ]
});
</script>
</body>
</html>
